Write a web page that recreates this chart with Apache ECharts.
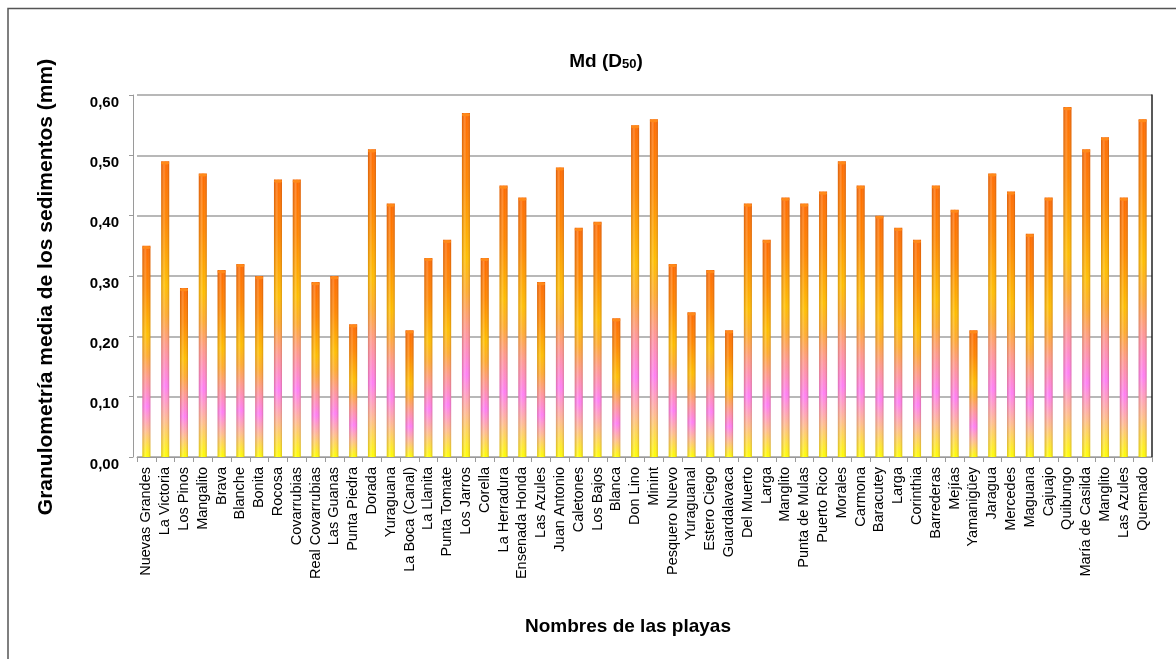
<!DOCTYPE html>
<html>
<head>
<meta charset="utf-8">
<script src="https://cdn.jsdelivr.net/npm/echarts@6/dist/echarts.min.js"></script>
<style>
html,body{margin:0;padding:0;background:#fff;}
#chart{width:1176px;height:659px;}
</style>
</head>
<body>
<div id="chart"></div>
<script>
var categories = ["Nuevas Grandes","La Victoria","Los Pinos","Mangalito","Brava","Blanche","Bonita","Rocosa","Covarrubias","Real Covarrubias","Las Guanas","Punta Piedra","Dorada","Yuraguana","La Boca (Canal)","La Llanita","Punta Tomate","Los Jarros","Corella","La Herradura","Ensenada Honda","Las Azules","Juan Antonio","Caletones","Los Bajos","Blanca","Don Lino","Minint","Pesquero Nuevo","Yuraguanal","Estero Ciego","Guardalavaca","Del Muerto","Larga","Manglito","Punta de Mulas","Puerto Rico","Morales","Carmona","Baracutey","Larga","Corinthia","Barrederas","Mejías","Yamanigüey","Jaragua","Mercedes","Maguana","Cajuajo","Quibungo","María de Casilda","Manglito","Las Azules","Quemado"];
var md50 = [0.35,0.49,0.28,0.47,0.31,0.32,0.30,0.46,0.46,0.29,0.30,0.22,0.51,0.42,0.21,0.33,0.36,0.57,0.33,0.45,0.43,0.29,0.48,0.38,0.39,0.23,0.55,0.56,0.32,0.24,0.31,0.21,0.42,0.36,0.43,0.42,0.44,0.49,0.45,0.40,0.38,0.36,0.45,0.41,0.21,0.47,0.44,0.37,0.43,0.58,0.51,0.53,0.43,0.56];
var yTicks = {min: 0, max: 0.6, interval: 0.1};

var chart = echarts.init(document.getElementById('chart'), null, {renderer: 'canvas'});
var FONT = '"Liberation Sans", Arial, sans-serif';

var barGradient = new echarts.graphic.LinearGradient(0, 0, 0, 1, [
  {offset: 0, color: '#FF6A00'},
  {offset: 0.2, color: '#FF8600'},
  {offset: 0.42, color: '#FFBE00'},
  {offset: 0.52, color: '#FFAC30'},
  {offset: 0.62, color: '#FF9A8A'},
  {offset: 0.76, color: '#FF7EF4'},
  {offset: 0.88, color: '#FFBE8C'},
  {offset: 1, color: '#FFFF00'}
]);
var shadeGradient = new echarts.graphic.LinearGradient(0, 0, 1, 0, [
  {offset: 0, color: 'rgba(120,40,0,0.25)'},
  {offset: 0.35, color: 'rgba(255,255,255,0.22)'},
  {offset: 0.6, color: 'rgba(255,255,255,0)'},
  {offset: 1, color: 'rgba(120,40,0,0.28)'}
]);

var option = {
  backgroundColor: '#ffffff',
  animation: false,
  textStyle: {fontFamily: FONT},
  title: {
    text: '{a|Md (D}{b|50}{a|)}',
    left: 601,
    top: 47,
    textAlign: 'center',
    textStyle: {
      rich: {
        a: {fontFamily: FONT, fontWeight: 'bold', fontSize: 19, color: '#000'},
        b: {fontFamily: FONT, fontWeight: 'bold', fontSize: 13, color: '#000', verticalAlign: 'bottom', padding: [4, 0, 0, 0]}
      }
    }
  },
  grid: {left: 137, right: 24, top: 95, bottom: 202, containLabel: false},
  xAxis: {
    type: 'category',
    data: categories,
    name: 'Nombres de las playas',
    nameLocation: 'middle',
    nameGap: 160,
    nameTextStyle: {fontFamily: FONT, fontWeight: 'bold', fontSize: 19, color: '#000', padding: [0, 33, 0, 0]},
    axisLine: {show: true, lineStyle: {color: '#9a9a9a', width: 1}},
    axisTick: {show: true, alignWithLabel: false, length: 5, lineStyle: {color: '#9a9a9a'}},
    axisLabel: {interval: 0, rotate: 90, fontFamily: FONT, fontSize: 14.5, color: '#000', margin: 10}
  },
  yAxis: [{
    type: 'value',
    min: yTicks.min,
    max: yTicks.max,
    interval: yTicks.interval,
    offset: 4,
    name: 'Granulometría media de los sedimentos (mm)',
    nameLocation: 'middle',
    nameGap: 76,
    nameTextStyle: {fontFamily: FONT, fontWeight: 'bold', fontSize: 21, color: '#000', padding: [0, 22, 0, 0]},
    axisLine: {show: true, lineStyle: {color: '#9a9a9a', width: 1}},
    axisTick: {show: true, length: 4, lineStyle: {color: '#9a9a9a'}},
    axisLabel: {
      fontFamily: FONT, fontWeight: 'bold', fontSize: 15, color: '#000', margin: 14,
      verticalAlign: 'top',
      formatter: function (v) { return v.toFixed(2).replace('.', ','); }
    },
    splitLine: {show: true, lineStyle: {color: '#a0a0a0', width: 1.5}}
  }, {
    type: 'value',
    position: 'right',
    min: yTicks.min,
    max: yTicks.max,
    interval: yTicks.interval,
    axisLine: {show: true, lineStyle: {color: '#222', width: 1.5}},
    axisTick: {show: false},
    axisLabel: {show: false},
    splitLine: {show: false}
  }],
  series: [{
    name: 'Md (D50)',
    type: 'bar',
    data: md50,
    barWidth: 8,
    itemStyle: {color: barGradient}
  }, {
    name: 'shade',
    type: 'bar',
    data: md50,
    barWidth: 8,
    barGap: '-100%',
    silent: true,
    tooltip: {show: false},
    itemStyle: {color: shadeGradient}
  }, {
    name: 'cap',
    type: 'pictorialBar',
    data: md50,
    symbol: 'circle',
    symbolSize: [8, 3],
    symbolPosition: 'end',
    symbolOffset: [0, 0],
    silent: true,
    z: 5,
    itemStyle: {color: '#FF8A1A', borderColor: '#D25A00', borderWidth: 0.6}
  }],
  graphic: [{
    type: 'polyline',
    silent: true,
    shape: {points: [[8, 659], [8, 8.5], [1176, 8.5]]},
    style: {stroke: '#555', lineWidth: 1.5, fill: null}
  }]
};
chart.setOption(option);
</script>
</body>
</html>
